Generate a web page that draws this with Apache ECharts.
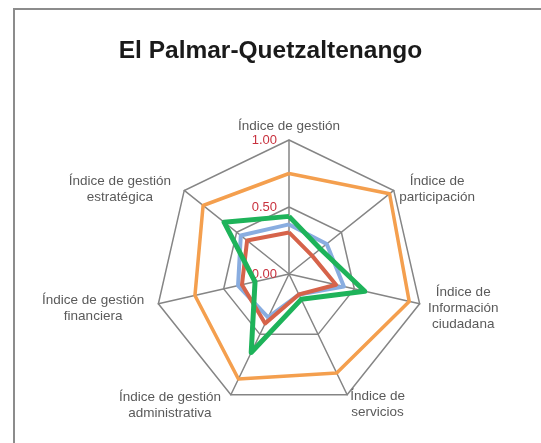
<!DOCTYPE html>
<html><head>
<meta charset="UTF-8">
<title>El Palmar-Quetzaltenango</title>
<script src="https://cdn.jsdelivr.net/npm/echarts@6/dist/echarts.min.js"></script>
<style>
html,body{margin:0;padding:0;background:#fff;}
#frame{position:absolute;left:13px;top:8px;width:540px;height:450px;border:2px solid #8c8c8c;box-sizing:border-box;}
#chart{position:absolute;left:0;top:0;width:541px;height:443px;}
</style>
</head>
<body>
<div id="frame"></div>
<div id="chart"></div>
<script type="text/javascript">
// indicadores, en el orden de ECharts (antihorario desde arriba)
var indicadores = ['Índice de gestión', 'Índice de gestión\nestratégica', 'Índice de gestión\nfinanciera',
	'Índice de gestión\nadministrativa', 'Índice de\nservicios', 'Índice de\nInformación\nciudadana', 'Índice de\nparticipación'];
var serieAzul    = [0.37, 0.46, 0.39, 0.36, 0.17, 0.42, 0.36];
var serieRoja    = [0.31, 0.40, 0.36, 0.41, 0.17, 0.36, 0.22];
var serieNaranja = [0.75, 0.82, 0.72, 0.87, 0.82, 0.92, 0.96];
var serieVerde   = [0.43, 0.62, 0.26, 0.65, 0.21, 0.58, 0.30];

// separacion y ajuste fino de cada nombre respecto al vertice
var gaps = [1, 10, 12, 9, 7, 6.5, 7];
var pads = [[0, 0, 0, 0], [10, 5.5, 0, 0], [4, 2.5, 0, 0], [4, 6, 0, 0], [7, 0, 0, 0], [6, 0, 0, 2], [6, 0, 0, 0]];
var ind = [];
for (var i = 0; i < indicadores.length; i++) {
	var o = {name: indicadores[i], min: 0, max: 1, nameGap: gaps[i], nameTextStyle: {padding: pads[i]}};
	if (i == 0) { o.axisLabel = {show: true}; }
	ind.push(o);
}
var chart = echarts.init(document.getElementById('chart'));
chart.setOption({
	animation: false,
	title: {text: 'El Palmar-Quetzaltenango', left: 'center', top: 34,
		textStyle: {fontFamily: 'Liberation Sans', fontSize: 24.5, fontWeight: 'bold', color: '#1a1a1a'}},
	radar: {
		center: [289, 274], radius: 134, startAngle: 90, shape: 'polygon', splitNumber: 2,
		indicator: ind,
		axisName: {
			formatter: function (n) {
				return n.split('\n').map(function (s) { return '{c|' + s + '}'; }).join('\n');
			},
			rich: {c: {align: 'center', color: '#5a5a5a', fontFamily: 'Liberation Sans', fontSize: 13.5, lineHeight: 16}}
		},
		axisLine: {lineStyle: {color: '#858585', width: 1.5}},
		splitLine: {lineStyle: {color: '#858585', width: 1.5}},
		splitArea: {show: false},
		axisTick: {show: false},
		axisLabel: {show: false, color: '#c8313e', fontFamily: 'Liberation Sans', fontSize: 13, margin: 12,
			formatter: function (v) { return v.toFixed(2); }}
	},
	series: [{
		type: 'radar', symbol: 'none',
		data: [
			{value: serieAzul, lineStyle: {color: '#89ade0', width: 4}},
			{value: serieRoja, lineStyle: {color: '#d6634a', width: 4}},
			{value: serieNaranja, lineStyle: {color: '#f49f4e', width: 3.5}},
			{value: serieVerde, lineStyle: {color: '#1eb35a', width: 5}}
		]
	}]
});
</script>
</body>
</html>
